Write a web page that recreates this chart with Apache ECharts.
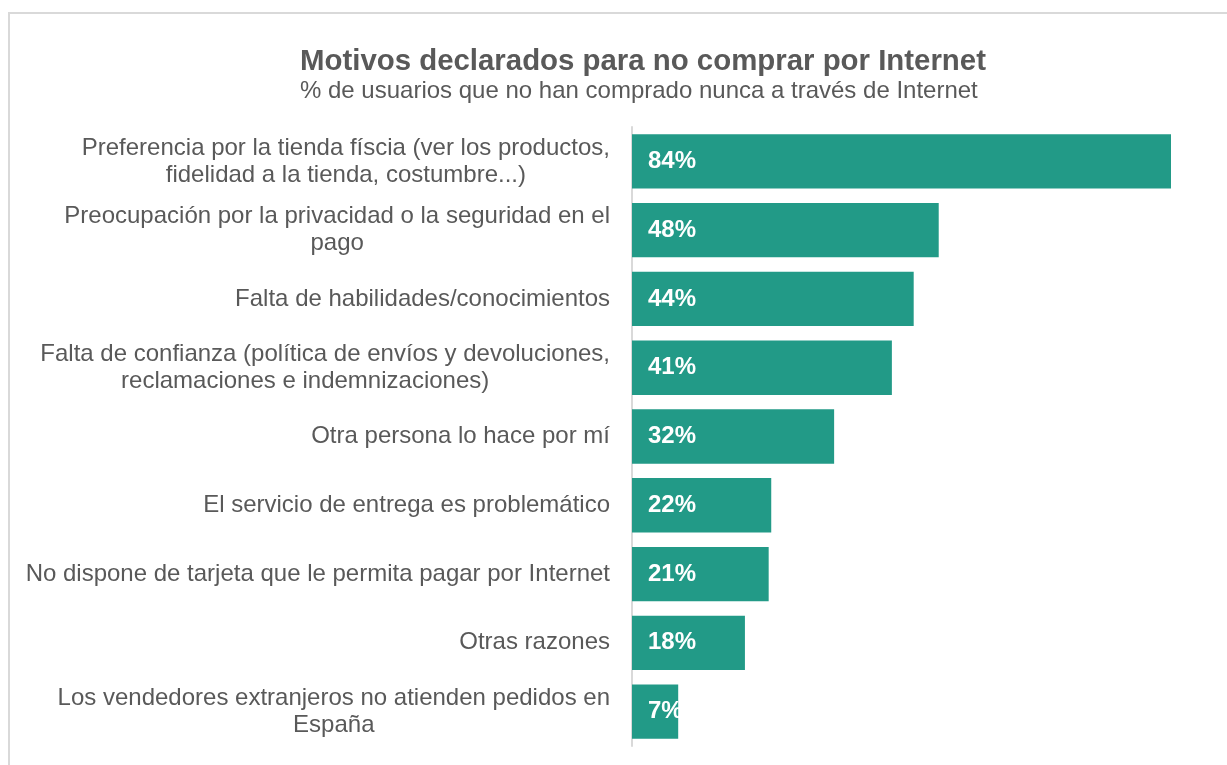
<!DOCTYPE html>
<html>
<head>
<meta charset="utf-8">
<script src="https://cdn.jsdelivr.net/npm/echarts@6/dist/echarts.min.js"></script>
<style>
html,body{margin:0;padding:0;background:#fff;}
#chart{width:1227px;height:765px;}
</style>
</head>
<body>
<div id="chart"></div>
<script>
const titleText = 'Motivos declarados para no comprar por Internet';
const subtitleText = '% de usuarios que no han comprado nunca a través de Internet';
const categories = [
  'Preferencia por la tienda físcia (ver los productos,\nfidelidad a la tienda, costumbre...)',
  'Preocupación por la privacidad o la seguridad en el\npago',
  'Falta de habilidades/conocimientos',
  'Falta de confianza (política de envíos y devoluciones,\nreclamaciones e indemnizaciones)      ',
  'Otra persona lo hace por mí',
  'El servicio de entrega es problemático',
  'No dispone de tarjeta que le permita pagar por Internet',
  'Otras razones',
  'Los vendedores extranjeros no atienden pedidos en\nEspaña'
];
const values = [84, 47.8, 43.9, 40.5, 31.5, 21.7, 21.3, 17.6, 7.2];

const FONT = '"Liberation Sans", Arial, sans-serif';
const chart = echarts.init(document.getElementById('chart'));
chart.setOption({
  animation: false,
  backgroundColor: '#fff',
  graphic: [{
    type: 'rect',
    shape: {x: 9, y: 13, width: 1240, height: 800},
    style: {fill: 'none', stroke: '#d9d9d9', lineWidth: 2},
    silent: true
  }],
  title: {
    text: titleText,
    subtext: subtitleText,
    left: 295,
    top: 42,
    itemGap: 3,
    textStyle: {fontFamily: FONT, fontSize: 29.4, fontWeight: 'bold', color: '#595959'},
    subtextStyle: {fontFamily: FONT, fontSize: 24, color: '#595959'}
  },
  grid: {left: 632, right: 17.5, top: 127, bottom: 19},
  xAxis: {
    type: 'value', min: 0, max: 90,
    show: false,
    splitLine: {show: false}
  },
  yAxis: {
    type: 'category',
    inverse: true,
    data: categories,
    axisLine: {show: true, lineStyle: {color: '#d9d9d9', width: 2}},
    axisTick: {show: false},
    axisLabel: {
      margin: 22,
      align: 'right',
      fontFamily: FONT,
      fontSize: 24,
      color: '#595959',
      lineHeight: 27,
      formatter: function (v) {
        return v.split('\n').map(function (l) { return '{c|' + l + '}'; }).join('\n');
      },
      rich: {
        c: {align: 'center', fontFamily: FONT, fontSize: 24, color: '#595959', lineHeight: 27}
      }
    }
  },
  series: [{
    type: 'bar',
    data: values,
    barCategoryGap: '21%',
    itemStyle: {color: '#229A87'},
    label: {
      show: true,
      position: 'insideLeft',
      distance: 16,
      formatter: function (p) { return Math.round(p.value) + '%'; },
      color: '#fff',
      fontFamily: FONT,
      fontSize: 24,
      fontWeight: 'bold'
    }
  }]
});
</script>
</body>
</html>
